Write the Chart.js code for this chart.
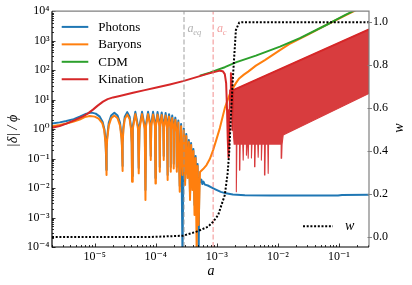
<!DOCTYPE html>
<html><head><meta charset="utf-8">
<script src="https://cdn.jsdelivr.net/npm/chart.js@4/dist/chart.umd.min.js"></script>
<style>html,body{margin:0;padding:0;background:#fff;}canvas{display:block;}</style>
</head><body>
<canvas id="c" width="412" height="285" style="width:412px;height:285px"></canvas>
<script>
// ---- data ----
const photonsA = [2e-6,2.67e-6,3.44e-6,4.53e-6,5.68e-6,7.31e-6,8.93e-6,1.04e-5,1.21e-5,1.35e-5,1.45e-5,1.51e-5,1.556e-5,
 1.57e-5,1.60e-5,1.70e-5,1.86e-5,2.10e-5,2.37e-5,2.60e-5,2.76e-5,2.81e-5,2.85e-5,
 2.88e-5,2.95e-5,3.11e-5,3.41e-5,3.73e-5,3.94e-5,4.04e-5,4.09e-5,
 4.20e-5,4.63e-5,5.13e-5,5.26e-5, 5.41e-5,5.96e-5,6.60e-5,6.78e-5, 6.93e-5,7.48e-5,8.10e-5,8.28e-5,
 8.44e-5,9.03e-5,9.70e-5,9.89e-5, 1.004e-4,1.07e-4,1.15e-4,1.164e-4, 1.18e-4,1.25e-4,1.33e-4,1.35e-4,
 1.37e-4,1.45e-4,1.53e-4,1.56e-4, 1.57e-4,1.65e-4,1.74e-4,1.76e-4, 1.78e-4,1.86e-4,1.95e-4,1.97e-4,
 1.99e-4,2.09e-4,2.18e-4,2.21e-4, 2.34e-4,2.47e-4, 2.60e-4,2.74e-4, 2.88e-4,3.02e-4, 3.16e-4,3.32e-4,
 3.48e-4,3.64e-4, 3.79e-4,3.97e-4, 4.13e-4,4.31e-4, 4.49e-4,4.67e-4, 4.84e-4,5.04e-4,
 5.16e-4,5.37e-4,5.57e-4,5.78e-4,6.01e-4,6.36e-4,7.12e-4,8.28e-4,9.64e-4,1.16e-3,1.41e-3,1.83e-3,2.88e-3,7.39e-3,2.88e-2,9.64e-2,0.112,0.31];
const photonsD = [1.56,1.69,1.87,2.18,2.65,3.35,3.62,3.35,2.65,1.73,0.925,0.362,0.0407,
 0.232,0.548,1.64,2.89,3.57,2.89,1.64,0.548,0.232,0.0557,
 0.362,1.17,2.65,3.77,2.65,1.17,0.362,0.0255,
 1.20,3.86,1.20,0.0476, 1.20,3.86,1.20,0.00855, 1.51,3.86,1.51,0.122,
 1.51,3.86,1.51,0.0218, 1.48,3.77,1.48,0.052, 1.44,3.68,1.44,0.122,
 1.37,3.49,1.37,0.0276, 1.26,3.22,1.26,0.052, 1.12,2.87,1.12,0.0665,
 0.962,2.45,0.962,0.052, 1.94,0.0117, 1.48,5e-5, 1.04,0.0173, 0.677,0.0299,
 0.424,0.0058, 0.335,0.0117, 0.210,0.00265, 0.122,0.00122, 0.0651,5e-5,
 0.0218,0.0160,0.0194,0.0137,0.0166,0.0131,0.0122,0.0104,0.0089,0.00743,0.00661,0.00602,0.0057,0.00557,0.00555,0.00555,0.00585,0.00588];

const baryonsA = [2e-6,2.67e-6,3.44e-6,4.53e-6,5.68e-6,6.86e-6,8.28e-6,1e-5,1.16e-5,1.33e-5,1.43e-5,1.50e-5,1.54e-5,1.556e-5,
 1.57e-5,1.60e-5,1.70e-5,1.86e-5,2.10e-5,2.37e-5,2.60e-5,2.76e-5,2.81e-5,2.85e-5,
 2.88e-5,2.95e-5,3.11e-5,3.41e-5,3.73e-5,3.94e-5,4.04e-5,4.09e-5,
 4.20e-5,4.63e-5,5.13e-5,5.26e-5, 5.41e-5,5.96e-5,6.60e-5,6.78e-5, 6.93e-5,7.48e-5,8.10e-5,8.28e-5,
 8.44e-5,9.03e-5,9.70e-5,9.89e-5, 1.004e-4,1.07e-4,1.15e-4,1.164e-4, 1.18e-4,1.25e-4,1.33e-4,1.35e-4,
 1.37e-4,1.45e-4,1.53e-4,1.56e-4, 1.57e-4,1.65e-4,1.74e-4,1.76e-4, 1.78e-4,1.86e-4,1.95e-4,1.97e-4,
 1.99e-4,2.09e-4,2.18e-4,2.21e-4, 2.34e-4,2.47e-4, 2.60e-4,2.74e-4, 2.88e-4,3.02e-4, 3.16e-4,3.32e-4,
 3.48e-4,3.64e-4, 3.79e-4,3.97e-4, 4.13e-4,4.31e-4, 4.49e-4,4.67e-4, 4.84e-4,5.04e-4,
 5.30e-4,5.96e-4,6.78e-4,7.67e-4,8.69e-4,9.88e-4,1.12e-3,1.23e-3,1.35e-3,1.50e-3,1.63e-3,1.83e-3,2.05e-3,2.32e-3,2.77e-3,3.26e-3,4.36e-3,6.12e-3,1.08e-2,1.53e-2,3.35e-2,6.93e-2,0.125,0.170,0.238];
const baryonsD = [1.26,1.37,1.54,1.80,2.10,2.55,2.76,2.65,2.27,1.60,0.925,0.362,0.131,0.0276,
 0.187,0.441,1.31,2.32,2.87,2.32,1.31,0.441,0.187,0.0377,
 0.299,0.962,2.18,3.10,2.18,0.962,0.299,0.0164,
 1.0,3.22,1.0,0.0315, 1.0,3.22,1.0,0.00392, 1.26,3.22,1.26,0.0889,
 1.26,3.15,1.26,0.0144, 1.22,3.10,1.22,0.0357, 1.17,2.99,1.17,0.0889,
 1.12,2.87,1.12,0.0187, 1.04,2.65,1.04,0.0357, 0.925,2.36,0.925,0.0465,
 0.791,2.02,0.791,0.0357, 1.66,0.0075, 1.26,0.0276, 0.889,0.0126, 0.579,0.0218,
 0.362,0.00392, 0.287,0.00855, 0.180,0.00122, 0.104,8e-5, 0.0557,5.57e-4,
 0.0348,0.0441,0.0603,0.0962,0.194,0.458,1.08,2.36,5.15,9.62,15.4,24.5,36.3,52.3,70.4,88.9,142,218,476,761,1730,3830,7040,9620,13700];

const cdmA = [5.26e-4,7.67e-4,9.88e-4,1.35e-3,2.10e-3,4.36e-3,1.08e-2,2.29e-2,6.93e-2,0.125,0.183];
const cdmD = [65.1,82.3,100,126,187,310,626,1215,3830,7310,10800];

const kinationA = [2e-6,2.67e-6,3.44e-6,4.70e-6,6.43e-6,7.67e-6,9.37e-6,1.12e-5,1.37e-5,1.63e-5,2.00e-5,2.57e-5,4.25e-5,6.60e-5,1.03e-4,1.70e-4,2.80e-4,4.36e-4,6.78e-4,9.27e-4,1.12e-3,1.25e-3,1.35e-3,1.42e-3,1.47e-3,1.51e-3,1.55e-3,1.59e-3,1.65e-3,1.70e-3,1.75e-3,1.80e-3,1.85e-3,0.31];
const kinationD = [1.11,1.26,1.54,2.02,2.70,3.35,4.58,6.26,8.55,10.4,11.9,13.3,17.0,21.0,25.9,32.8,42.4,55.7,73.1,87.5,96.2,92.5,73.1,36.3,4.41,0.424,0.112,0.626,21.0,79.1,45.8,0.925,21.0,2400];

// oscillating kination band: upper edge, then lower edge (with aliasing spikes) back to the start
const bandA = [1.85e-3,0.31,0.31,1.22e-2,1.17e-2,1.15e-2,1.13e-2,7.03e-3,6.93e-3,6.83e-3,6.21e-3,6.12e-3,6.03e-3,
 5.48e-3,5.40e-3,5.32e-3,4.82e-3,4.75e-3,4.68e-3,4.26e-3,4.20e-3,4.14e-3,3.76e-3,3.71e-3,3.66e-3,
 3.31e-3,3.26e-3,3.22e-3,3.11e-3,3.07e-3,3.03e-3,2.74e-3,2.70e-3,2.66e-3,2.41e-3,2.38e-3,2.35e-3,
 2.13e-3,2.10e-3,2.07e-3,1.92e-3,1.85e-3];
const bandD = [21.0,2400,16.2,0.626,0.31,0.102,0.31,0.31,0.0315,0.31,0.31,0.0276,0.31,
 0.31,0.0889,0.31,0.31,0.112,0.31,0.31,0.0527,0.31,0.31,0.104,0.31,
 0.31,0.102,0.31,0.31,0.131,0.31,0.31,0.0889,0.31,0.31,0.0407,0.31,
 0.31,0.0075,0.31,0.31,0.9];

const wA = [2e-6,8e-5,2.8e-4,4.65e-4,7.19e-4,8.69e-4,1.05e-3,1.19e-3,1.35e-3,1.50e-3,1.59e-3,1.70e-3,1.83e-3,1.97e-3,2.05e-3,2.32e-3,2.6e-3,0.31];
const wV = [0.0,0.0,0.006,0.025,0.048,0.071,0.102,0.149,0.195,0.296,0.389,0.56,0.74,0.885,0.963,0.998,1.0,1.0];

const aEq = 2.9e-4, aC = 8.7e-4;

const xTickValues = [1e-5,1e-4,1e-3,1e-2,1e-1];
const xTickLabels = ['10⁻⁵','10⁻⁴','10⁻³','10⁻²','10⁻¹'];
const yTickValues = [1e-4,1e-3,1e-2,1e-1,1,10,100,1000,10000];
const yTickLabels = ['10⁻⁴','10⁻³','10⁻²','10⁻¹','10⁰','10¹','10²','10³','10⁴'];
const wTickValues = [0,0.2,0.4,0.6,0.8,1.0];
const wTickLabels = ['0.0','0.2','0.4','0.6','0.8','1.0'];

const seriesNames = ['Photons','Baryons','CDM','Kination'];
const colors = {Photons:'#1f77b4', Baryons:'#ff7f0e', CDM:'#2ca02c', Kination:'#d62728'};
const FONT = '"Liberation Serif", "DejaVu Serif", serif';

// ---- helpers ----
const pts = (A, B) => A.map((x, i) => ({x, y: B[i]}));
function logLabel(v, vals, labels) {
  for (let i = 0; i < vals.length; i++) {
    if (Math.abs(Math.log10(v) - Math.log10(vals[i])) < 1e-6) return labels[i];
  }
  return '';
}
function linLabel(v, vals, labels) {
  for (let i = 0; i < vals.length; i++) if (Math.abs(v - vals[i]) < 1e-6) return labels[i];
  return '';
}

const decor = {
  id: 'decor',
  afterDatasetsDraw(chart) {
    const {ctx, chartArea: ca, scales} = chart;
    const xs = scales.x, ys = scales.y, ws = scales.w;
    ctx.save();
    const seg = (x1, y1, x2, y2) => { ctx.beginPath(); ctx.moveTo(x1, y1); ctx.lineTo(x2, y2); ctx.stroke(); };
    ctx.strokeStyle = '#000';
    ctx.lineWidth = 0.8;
    for (let e = -6; e <= 0; e++) for (let d = 1; d <= 9; d++) {
      const v = d * Math.pow(10, e);
      if (v < xs.min || v > xs.max) continue;
      const p = Math.round(xs.getPixelForValue(v)) + 0.5;
      seg(p, ca.bottom, p, ca.bottom - (d === 1 ? 3.5 : 2));
    }
    for (let e = -4; e <= 4; e++) for (let d = 1; d <= 9; d++) {
      const v = d * Math.pow(10, e);
      if (v < ys.min * 0.999 || v > ys.max * 1.001) continue;
      const p = Math.round(ys.getPixelForValue(v)) + 0.5;
      seg(ca.left, p, ca.left + (d === 1 ? 3.5 : 2), p);
    }
    ctx.lineWidth = 1.2;
    ctx.strokeStyle = '#808080';
    ctx.beginPath(); ctx.moveTo(ca.left, ca.top); ctx.lineTo(ca.right, ca.top); ctx.lineTo(ca.right, ca.bottom); ctx.stroke();
    ctx.strokeStyle = '#000';
    ctx.beginPath(); ctx.moveTo(ca.left, ca.top); ctx.lineTo(ca.left, ca.bottom); ctx.lineTo(ca.right, ca.bottom); ctx.stroke();
    ctx.strokeStyle = '#808080';
    ctx.lineWidth = 1;
    wTickValues.forEach(v => {
      const p = Math.round(ws.getPixelForValue(v)) + 0.5;
      seg(ca.right - 1.5, p, ca.right + 3, p);
    });
    ctx.restore();
  },
  afterDraw(chart) {
    const {ctx, chartArea: ca, scales} = chart;
    const xs = scales.x;
    ctx.save();
    ctx.font = '13px ' + FONT;
    ctx.textBaseline = 'middle';
    ctx.textAlign = 'left';
    seriesNames.forEach((name, i) => {
      const y = ca.top + 15.7 + i * 17.45;
      ctx.strokeStyle = colors[name];
      ctx.lineWidth = 2;
      ctx.beginPath(); ctx.moveTo(ca.left + 9.7, y); ctx.lineTo(ca.left + 36.3, y); ctx.stroke();
      ctx.fillStyle = '#000';
      ctx.fillText(name, ca.left + 46.3, y + 0.5);
    });
    const ly = ca.top + 215;
    ctx.strokeStyle = '#000';
    ctx.lineWidth = 2;
    ctx.setLineDash([2, 1.7]);
    ctx.beginPath(); ctx.moveTo(303, ly); ctx.lineTo(333, ly); ctx.stroke();
    ctx.setLineDash([]);
    ctx.font = 'italic 14px ' + FONT;
    ctx.fillStyle = '#000';
    ctx.fillText('w', 345, ly);
    const xe = xs.getPixelForValue(aEq), xc = xs.getPixelForValue(aC);
    ctx.textBaseline = 'alphabetic';
    ctx.fillStyle = '#b0b0b0';
    ctx.font = 'italic 12px ' + FONT;
    ctx.fillText('a', xe + 3.5, ca.top + 21);
    ctx.font = 'italic 8.5px ' + FONT;
    ctx.fillText('eq', xe + 9.3, ca.top + 24);
    ctx.fillStyle = '#f2a0a0';
    ctx.font = 'italic 12px ' + FONT;
    ctx.fillText('a', xc + 3.8, ca.top + 21);
    ctx.font = 'italic 8.5px ' + FONT;
    ctx.fillText('c', xc + 9.6, ca.top + 24);
    ctx.fillStyle = '#000';
    ctx.textAlign = 'center';
    ctx.textBaseline = 'middle';
    ctx.font = 'italic 14px ' + FONT;
    ctx.fillText('a', (ca.left + ca.right) / 2 + 0.5, 271.5);
    ctx.save();
    ctx.translate(13, 131);
    ctx.rotate(-Math.PI / 2);
    ctx.fillText('|δ| / ϕ', 0, 0);
    ctx.restore();
    ctx.save();
    ctx.translate(399, 128);
    ctx.rotate(-Math.PI / 2);
    ctx.fillText('w', 0, 0);
    ctx.restore();
    ctx.restore();
  }
};

const lineBase = {pointRadius: 0, borderWidth: 2, fill: false, tension: 0, borderJoinStyle: 'round'};

new Chart(document.getElementById('c').getContext('2d'), {
  type: 'line',
  data: {
    datasets: [
      Object.assign({}, lineBase, {label: 'w', data: pts(wA, wV), xAxisID: 'x', yAxisID: 'w', borderColor: '#000', borderDash: [2, 1.7], borderJoinStyle: 'miter', order: 0}),
      Object.assign({}, lineBase, {label: 'a_eq', data: [{x: aEq, y: 1e-4}, {x: aEq, y: 1e4}], yAxisID: 'y', borderColor: 'rgba(150,150,150,0.75)', borderWidth: 1.2, borderDash: [5, 2.5], order: 1}),
      Object.assign({}, lineBase, {label: 'a_c', data: [{x: aC, y: 1e-4}, {x: aC, y: 1e4}], yAxisID: 'y', borderColor: 'rgba(240,120,120,0.7)', borderWidth: 1.2, borderDash: [5, 2.5], order: 1}),
      Object.assign({}, lineBase, {label: 'Kination', data: pts(kinationA, kinationD), yAxisID: 'y', borderColor: colors.Kination, order: 2}),
      Object.assign({}, lineBase, {label: 'Kination band', data: pts(bandA, bandD), yAxisID: 'y', borderColor: 'rgb(216,60,62)', backgroundColor: 'rgb(216,60,62)', borderWidth: 1.1, fill: 'shape', order: 3}),
      Object.assign({}, lineBase, {label: 'CDM', data: pts(cdmA, cdmD), yAxisID: 'y', borderColor: colors.CDM, order: 4}),
      Object.assign({}, lineBase, {label: 'Baryons', data: pts(baryonsA, baryonsD), yAxisID: 'y', borderColor: colors.Baryons, order: 5}),
      Object.assign({}, lineBase, {label: 'Photons', data: pts(photonsA, photonsD), yAxisID: 'y', borderColor: colors.Photons, order: 6})
    ]
  },
  options: {
    responsive: false,
    animation: false,
    devicePixelRatio: 1,
    layout: {padding: {top: 11, left: 0, right: 0, bottom: 0}},
    plugins: {legend: {display: false}, tooltip: {enabled: false}},
    events: [],
    scales: {
      x: {
        type: 'logarithmic', position: 'bottom', min: 2e-6, max: 0.31,
        grid: {display: false, drawTicks: false}, border: {display: false},
        ticks: {autoSkip: false, maxRotation: 0, padding: 3, color: '#000', font: {family: FONT, size: 12},
          callback: v => logLabel(v, xTickValues, xTickLabels)},
        afterFit: s => { s.height = 38; }
      },
      y: {
        type: 'logarithmic', position: 'left', min: 1e-4, max: 1e4,
        grid: {display: false, drawTicks: false}, border: {display: false},
        ticks: {autoSkip: false, padding: 2.5, color: '#000', font: {family: FONT, size: 12},
          callback: v => logLabel(v, yTickValues, yTickLabels)},
        afterFit: s => { s.width = 52; }
      },
      w: {
        type: 'linear', position: 'right', min: -0.0465, max: 1.051,
        grid: {display: false, drawTicks: false}, border: {display: false},
        ticks: {autoSkip: false, stepSize: 0.2, includeBounds: false, padding: 4, color: '#000', font: {family: FONT, size: 12},
          callback: v => linLabel(v, wTickValues, wTickLabels)},
        afterFit: s => { s.width = 43; }
      }
    }
  },
  plugins: [decor]
});
</script>
</body></html>
